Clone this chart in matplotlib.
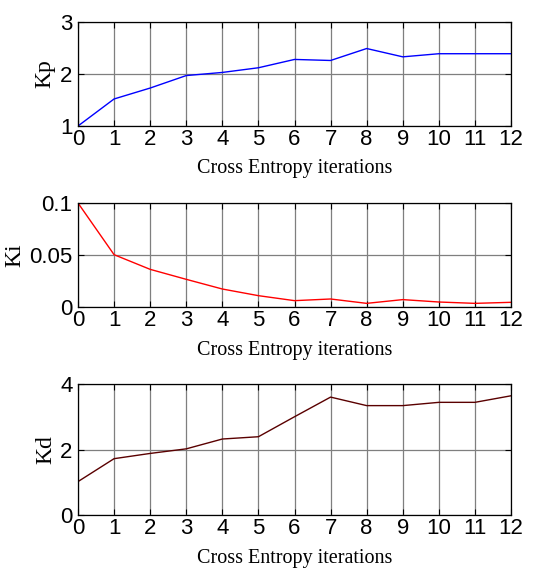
import matplotlib
matplotlib.use("Agg")
import matplotlib.pyplot as plt

iterations = list(range(13))
kp = [1.0, 1.52, 1.73, 1.97, 2.03, 2.12, 2.28, 2.26, 2.49, 2.33, 2.39, 2.39, 2.39]
ki = [0.1, 0.0503, 0.0362, 0.0266, 0.0173, 0.0109, 0.0061, 0.0077, 0.0035, 0.0071, 0.0048, 0.0035, 0.0045]
kd = [1.02, 1.72, 1.88, 2.02, 2.32, 2.39, 3.0, 3.60, 3.34, 3.34, 3.44, 3.44, 3.64]

xlabel = "Cross Entropy iterations"
panels = [
    ("Kp", kp, "#0000ff", (1, 3), [1, 2, 3], ["1", "2", "3"]),
    ("Ki", ki, "#ff0000", (0, 0.1), [0, 0.05, 0.1], ["0", "0.05", "0.1"]),
    ("Kd", kd, "#5a0000", (0, 4), [0, 2, 4], ["0", "2", "4"]),
]

W, H = 541, 572
fig = plt.figure(figsize=(W / 100, H / 100), dpi=100)
boxes = [(22, 126), (203, 307), (384, 515)]
left, right = 78, 511

for (name, vals, col, ylim, yt, ytl), (top, bot) in zip(panels, boxes):
    ax = fig.add_axes([left / W, 1 - bot / H, (right - left) / W, (bot - top) / H])
    ax.plot(iterations, vals, color=col, lw=1.0)
    ax.set_xlim(0, 12)
    ax.set_ylim(*ylim)
    ax.set_xticks(iterations)
    ax.set_yticks(yt)
    ax.set_yticklabels(ytl)
    ax.grid(True, color="#7f7f7f", lw=0.9)
    ax.set_axisbelow(True)
    ax.tick_params(direction="in", top=True, right=True, length=4, width=0.8,
                   labelsize=16)
    ax.tick_params(axis="x", pad=2)
    ax.tick_params(axis="y", pad=4)
    for lab in ax.get_xticklabels() + ax.get_yticklabels():
        lab.set_fontfamily("Liberation Sans")
    for s in ax.spines.values():
        s.set_linewidth(0.9)
    ax.set_xlabel(xlabel, family="Liberation Serif", fontsize=14.5, labelpad=7)
    ax.set_ylabel(name, family="Liberation Serif", fontsize=17, labelpad=3)

fig.savefig("out.png", dpi=100)
